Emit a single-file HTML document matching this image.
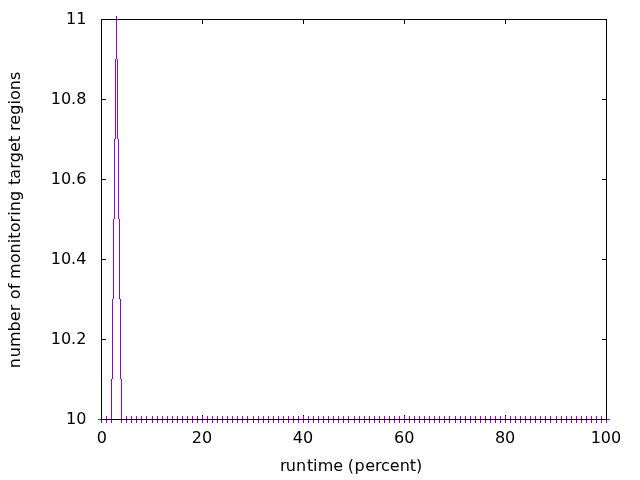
<!DOCTYPE html>
<html><head><meta charset="utf-8"><title>plot</title>
<style>
html,body{margin:0;padding:0;background:#fff;width:640px;height:480px;overflow:hidden}
svg{display:block}
text{font-family:'DejaVu Sans','Liberation Sans',sans-serif;font-size:16px;fill:#000}
</style></head><body>
<svg width="640" height="480" viewBox="0 0 640 480">
<rect width="640" height="480" fill="#fff"/>
<path d="M101 415h1v4h-1zM101 20h1v4h-1zM202 415h1v4h-1zM202 20h1v4h-1zM303 415h1v4h-1zM303 20h1v4h-1zM404 415h1v4h-1zM404 20h1v4h-1zM505 415h1v4h-1zM505 20h1v4h-1zM606 415h1v4h-1zM606 20h1v4h-1zM102 419h4v1h-4zM602 419h4v1h-4zM102 339h4v1h-4zM602 339h4v1h-4zM102 259h4v1h-4zM602 259h4v1h-4zM102 179h4v1h-4zM602 179h4v1h-4zM102 99h4v1h-4zM602 99h4v1h-4zM102 19h4v1h-4zM602 19h4v1h-4z" fill="#000" shape-rendering="crispEdges"/>
<path d="M101 419h506v1h-506zM111 379h1v41h-1zM121 379h1v41h-1zM112 299h1v80h-1zM120 299h1v80h-1zM113 219h1v80h-1zM119 219h1v80h-1zM114 139h1v80h-1zM118 139h1v80h-1zM115 59h1v80h-1zM117 59h1v80h-1zM116 19h1v40h-1zM116 19h1v40h-1zM101 416h1v7h-1zM98 419h7v1h-7zM106 416h1v7h-1zM103 419h7v1h-7zM111 416h1v7h-1zM108 419h7v1h-7zM116 16h1v7h-1zM113 19h7v1h-7zM121 416h1v7h-1zM118 419h7v1h-7zM126 416h1v7h-1zM123 419h7v1h-7zM131 416h1v7h-1zM128 419h7v1h-7zM136 416h1v7h-1zM133 419h7v1h-7zM141 416h1v7h-1zM138 419h7v1h-7zM146 416h1v7h-1zM143 419h7v1h-7zM152 416h1v7h-1zM149 419h7v1h-7zM157 416h1v7h-1zM154 419h7v1h-7zM162 416h1v7h-1zM159 419h7v1h-7zM167 416h1v7h-1zM164 419h7v1h-7zM172 416h1v7h-1zM169 419h7v1h-7zM177 416h1v7h-1zM174 419h7v1h-7zM182 416h1v7h-1zM179 419h7v1h-7zM187 416h1v7h-1zM184 419h7v1h-7zM192 416h1v7h-1zM189 419h7v1h-7zM197 416h1v7h-1zM194 419h7v1h-7zM202 416h1v7h-1zM199 419h7v1h-7zM207 416h1v7h-1zM204 419h7v1h-7zM212 416h1v7h-1zM209 419h7v1h-7zM217 416h1v7h-1zM214 419h7v1h-7zM222 416h1v7h-1zM219 419h7v1h-7zM227 416h1v7h-1zM224 419h7v1h-7zM232 416h1v7h-1zM229 419h7v1h-7zM237 416h1v7h-1zM234 419h7v1h-7zM242 416h1v7h-1zM239 419h7v1h-7zM247 416h1v7h-1zM244 419h7v1h-7zM253 416h1v7h-1zM250 419h7v1h-7zM258 416h1v7h-1zM255 419h7v1h-7zM263 416h1v7h-1zM260 419h7v1h-7zM268 416h1v7h-1zM265 419h7v1h-7zM273 416h1v7h-1zM270 419h7v1h-7zM278 416h1v7h-1zM275 419h7v1h-7zM283 416h1v7h-1zM280 419h7v1h-7zM288 416h1v7h-1zM285 419h7v1h-7zM293 416h1v7h-1zM290 419h7v1h-7zM298 416h1v7h-1zM295 419h7v1h-7zM303 416h1v7h-1zM300 419h7v1h-7zM308 416h1v7h-1zM305 419h7v1h-7zM313 416h1v7h-1zM310 419h7v1h-7zM318 416h1v7h-1zM315 419h7v1h-7zM323 416h1v7h-1zM320 419h7v1h-7zM328 416h1v7h-1zM325 419h7v1h-7zM333 416h1v7h-1zM330 419h7v1h-7zM338 416h1v7h-1zM335 419h7v1h-7zM343 416h1v7h-1zM340 419h7v1h-7zM348 416h1v7h-1zM345 419h7v1h-7zM354 416h1v7h-1zM351 419h7v1h-7zM359 416h1v7h-1zM356 419h7v1h-7zM364 416h1v7h-1zM361 419h7v1h-7zM369 416h1v7h-1zM366 419h7v1h-7zM374 416h1v7h-1zM371 419h7v1h-7zM379 416h1v7h-1zM376 419h7v1h-7zM384 416h1v7h-1zM381 419h7v1h-7zM389 416h1v7h-1zM386 419h7v1h-7zM394 416h1v7h-1zM391 419h7v1h-7zM399 416h1v7h-1zM396 419h7v1h-7zM404 416h1v7h-1zM401 419h7v1h-7zM409 416h1v7h-1zM406 419h7v1h-7zM414 416h1v7h-1zM411 419h7v1h-7zM419 416h1v7h-1zM416 419h7v1h-7zM424 416h1v7h-1zM421 419h7v1h-7zM429 416h1v7h-1zM426 419h7v1h-7zM434 416h1v7h-1zM431 419h7v1h-7zM439 416h1v7h-1zM436 419h7v1h-7zM444 416h1v7h-1zM441 419h7v1h-7zM449 416h1v7h-1zM446 419h7v1h-7zM455 416h1v7h-1zM452 419h7v1h-7zM460 416h1v7h-1zM457 419h7v1h-7zM465 416h1v7h-1zM462 419h7v1h-7zM470 416h1v7h-1zM467 419h7v1h-7zM475 416h1v7h-1zM472 419h7v1h-7zM480 416h1v7h-1zM477 419h7v1h-7zM485 416h1v7h-1zM482 419h7v1h-7zM490 416h1v7h-1zM487 419h7v1h-7zM495 416h1v7h-1zM492 419h7v1h-7zM500 416h1v7h-1zM497 419h7v1h-7zM505 416h1v7h-1zM502 419h7v1h-7zM510 416h1v7h-1zM507 419h7v1h-7zM515 416h1v7h-1zM512 419h7v1h-7zM520 416h1v7h-1zM517 419h7v1h-7zM525 416h1v7h-1zM522 419h7v1h-7zM530 416h1v7h-1zM527 419h7v1h-7zM535 416h1v7h-1zM532 419h7v1h-7zM540 416h1v7h-1zM537 419h7v1h-7zM545 416h1v7h-1zM542 419h7v1h-7zM550 416h1v7h-1zM547 419h7v1h-7zM556 416h1v7h-1zM553 419h7v1h-7zM561 416h1v7h-1zM558 419h7v1h-7zM566 416h1v7h-1zM563 419h7v1h-7zM571 416h1v7h-1zM568 419h7v1h-7zM576 416h1v7h-1zM573 419h7v1h-7zM581 416h1v7h-1zM578 419h7v1h-7zM586 416h1v7h-1zM583 419h7v1h-7zM591 416h1v7h-1zM588 419h7v1h-7zM596 416h1v7h-1zM593 419h7v1h-7zM601 416h1v7h-1zM598 419h7v1h-7zM606 416h1v7h-1zM603 419h7v1h-7z" fill="#9400d3" shape-rendering="crispEdges"/>
<path d="M101 19h506v1h-506zM101 419h506v1h-506zM101 19h1v401h-1zM606 19h1v401h-1z" fill="#000" shape-rendering="crispEdges"/>
<text x="86.35" y="423.6" text-anchor="end">10</text>
<text x="86.35" y="343.6" text-anchor="end">10.2</text>
<text x="86.35" y="263.6" text-anchor="end">10.4</text>
<text x="86.35" y="183.6" text-anchor="end">10.6</text>
<text x="86.35" y="103.6" text-anchor="end">10.8</text>
<text x="86.35" y="23.6" text-anchor="end">11</text>
<text x="101.95" y="443" text-anchor="middle">0</text>
<text x="202.05" y="443" text-anchor="middle">20</text>
<text x="303.05" y="443" text-anchor="middle">40</text>
<text x="404.3" y="443" text-anchor="middle">60</text>
<text x="505.1" y="443" text-anchor="middle">80</text>
<text x="605.9" y="443" text-anchor="middle">100</text>
<text x="280.07 285.85 295.99 306.93 312.94 317.75 333.23 343.07 347.66 354.40 365.25 374.90 380.88 389.68 399.77 409.66 415.93" y="470.5">runtime (percent)</text>
<text transform="translate(19.55,480) rotate(-90)" x="111.80 122.69 132.94 148.63 158.89 168.84 175.57 180.87 190.77 196.11 200.96 216.66 226.55 236.80 241.35 247.74 257.64 264.32 268.88 279.12 289.53 294.98 301.36 311.28 317.68 327.94 337.88 344.02 349.01 355.30 365.20 375.41 379.91 389.76 399.96" y="0">number of monitoring target regions</text>
</svg>
</body></html>
